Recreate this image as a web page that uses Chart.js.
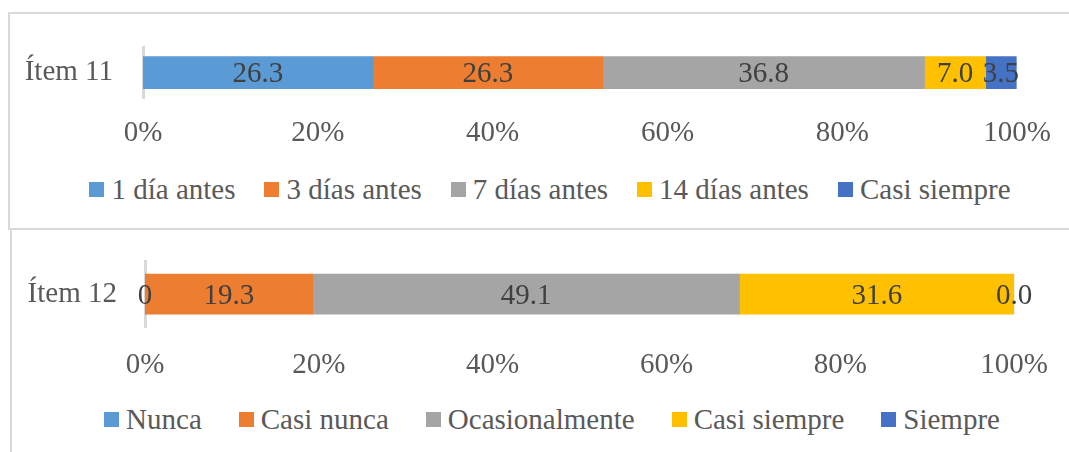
<!DOCTYPE html>
<html>
<head>
<meta charset="utf-8">
<script src="https://cdn.jsdelivr.net/npm/chart.js@4.4.0/dist/chart.umd.min.js"></script>
<style>
  body { margin: 0; width: 1069px; height: 452px; overflow: hidden; background: #fff; position: relative;
         font-family: "Liberation Serif", "Times New Roman", serif; }
  .panel { position: absolute; border: 2px solid #d9d9d9; box-sizing: border-box; }
  #panel11 { left: 8px; top: 12px; width: 1100px; height: 218px; }
  #panel12 { left: 10px; top: 228px; width: 1100px; height: 260px; }
  .wrap { position: absolute; left: 0; width: 1069px; height: 170px; }
  #wrap11 { top: 0; }
  #wrap12 { top: 216px; }
  .legend { position: absolute; left: 0; display: flex; justify-content: center; align-items: center;
            font-size: 29px; line-height: 29px; color: #595959; white-space: nowrap; }
  #legend11 { top: 175px; width: 1100px; gap: 29px; }
  #legend12 { top: 405px; width: 1104px; gap: 37px; }
  .item { display: flex; align-items: center; }
  .box { width: 15px; height: 15px; margin-right: 7px; }
</style>
</head>
<body>
<div class="panel" id="panel11"></div>
<div class="panel" id="panel12"></div>
<div class="wrap" id="wrap11"><canvas id="chart11"></canvas></div>
<div class="wrap" id="wrap12"><canvas id="chart12"></canvas></div>
<div class="legend" id="legend11"></div>
<div class="legend" id="legend12"></div>
<script>
// Data
const colors = ['#5B9BD5', '#ED7D31', '#A5A5A5', '#FFC000', '#4472C4'];

const item11Category = ['Ítem 11'];
const item11Series = ['1 día antes', '3 días antes', '7 días antes', '14 días antes', 'Casi siempre'];
const item11Values = [26.3, 26.3, 36.8, 7.0, 3.5];
const item11Text = ['26.3', '26.3', '36.8', '7.0', '3.5'];

const item12Category = ['Ítem 12'];
const item12Series = ['Nunca', 'Casi nunca', 'Ocasionalmente', 'Casi siempre', 'Siempre'];
const item12Values = [0, 19.3, 49.1, 31.6, 0.0];
const item12Text = ['0', '19.3', '49.1', '31.6', '0.0'];

const xTicks = [0, 20, 40, 60, 80, 100];

const FONT = '"Liberation Serif", "Times New Roman", serif';
const SIZE = 29;

// draws the value of each segment in its middle
const valueLabels = {
  id: 'valueLabels',
  afterDatasetsDraw(chart, args, opts) {
    const ctx = chart.ctx;
    ctx.save();
    ctx.font = SIZE + 'px ' + FONT;
    ctx.fillStyle = '#404040';
    ctx.textAlign = 'center';
    ctx.textBaseline = 'middle';
    chart.data.datasets.forEach((ds, i) => {
      chart.getDatasetMeta(i).data.forEach(bar => {
        ctx.fillText(opts.texts[i], (bar.x + bar.base) / 2, bar.y + 2);
      });
    });
    ctx.restore();
  }
};

function makeChart(id, category, series, values, texts, cfg) {
  const ctx = document.getElementById(id).getContext('2d');
  return new Chart(ctx, {
    type: 'bar',
    data: {
      labels: category,
      datasets: series.map((name, i) => ({
        label: name,
        data: [values[i]],
        backgroundColor: colors[i],
        borderWidth: 0,
        barThickness: cfg.bar
      }))
    },
    options: {
      indexAxis: 'y',
      responsive: true,
      maintainAspectRatio: false,
      animation: false,
      layout: { padding: { top: cfg.top, right: 49, left: 0, bottom: 0 } },
      scales: {
        x: {
          stacked: true,
          min: 0,
          max: 100,
          afterBuildTicks: axis => { axis.ticks = xTicks.map(v => ({ value: v })); },
          afterFit: axis => { axis.height = cfg.xHeight; },
          grid: { display: false, drawTicks: false },
          border: { display: false },
          ticks: {
            padding: cfg.tickPad,
            color: '#595959',
            font: { family: FONT, size: SIZE },
            callback: v => v + '%'
          }
        },
        y: {
          stacked: true,
          afterFit: axis => { axis.width = cfg.left; },
          grid: { display: false, drawTicks: false },
          border: { display: true, color: '#d9d9d9', width: 3 },
          ticks: {
            padding: cfg.labelPad,
            color: '#595959',
            font: { family: FONT, size: SIZE }
          }
        }
      },
      plugins: {
        legend: { display: false },
        tooltip: { enabled: false },
        valueLabels: { texts: texts }
      }
    },
    plugins: [valueLabels]
  });
}

function buildLegend(elId, chart) {
  const el = document.getElementById(elId);
  chart.data.datasets.forEach(ds => {
    const item = document.createElement('div');
    item.className = 'item';
    const box = document.createElement('span');
    box.className = 'box';
    box.style.background = ds.backgroundColor;
    const txt = document.createElement('span');
    txt.textContent = ds.label;
    item.appendChild(box);
    item.appendChild(txt);
    el.appendChild(item);
  });
}

const chart11 = makeChart('chart11', item11Category, item11Series, item11Values, item11Text,
  { top: 42, xHeight: 72, left: 143, bar: 32, tickPad: 18, labelPad: 30 });
const chart12 = makeChart('chart12', item12Category, item12Series, item12Values, item12Text,
  { top: 42, xHeight: 59, left: 145, bar: 40, tickPad: 21, labelPad: 28 });

buildLegend('legend11', chart11);
buildLegend('legend12', chart12);
</script>
</body>
</html>
